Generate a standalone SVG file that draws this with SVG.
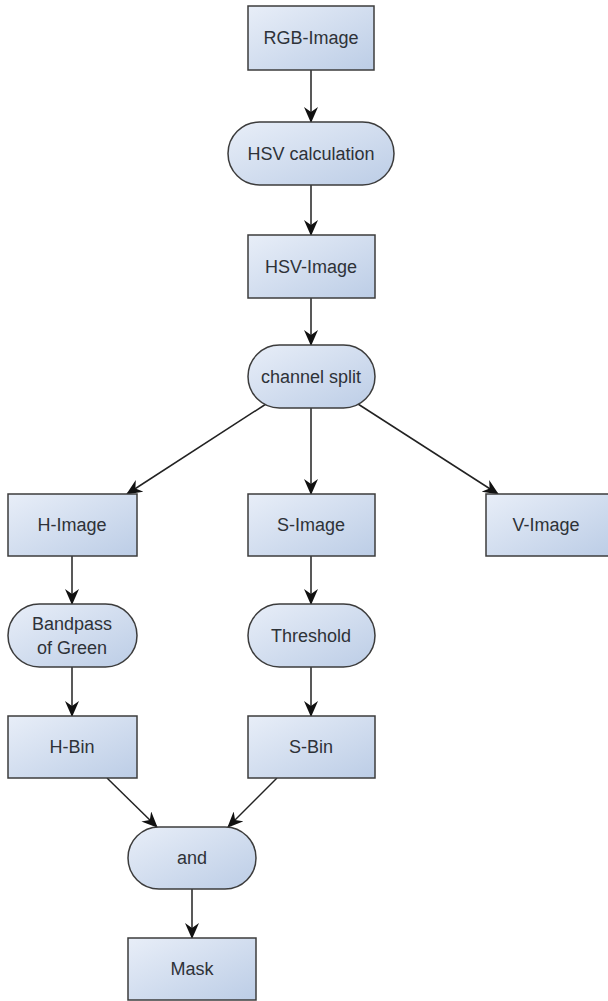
<svg xmlns="http://www.w3.org/2000/svg" width="608" height="1001" viewBox="0 0 608 1001">
<defs>
<linearGradient id="g" x1="0" y1="0" x2="1" y2="1">
<stop offset="0" stop-color="#e8eef8"/>
<stop offset="1" stop-color="#bccde6"/>
</linearGradient>
<marker id="ah" markerWidth="16" markerHeight="14" refX="15" refY="7" orient="auto" markerUnits="userSpaceOnUse">
<path d="M0,0 L16,7 L0,14 L5,7 z" fill="#111"/>
</marker>
<style>
.n{fill:url(#g);stroke:#3c3c3c;stroke-width:1.5}
.t{font-family:"Liberation Sans",Arial,sans-serif;font-size:18px;fill:#2e3238;text-anchor:middle;dominant-baseline:central}
.c{stroke:#222;stroke-width:1.5;fill:none;marker-end:url(#ah)}
</style>
</defs>
<rect width="608" height="1001" fill="#fff"/>
<g id="connectors">
<line class="c" x1="311" y1="70" x2="311" y2="122"/>
<line class="c" x1="311" y1="185" x2="311" y2="235"/>
<line class="c" x1="311" y1="298" x2="311" y2="345"/>
<line class="c" x1="266" y1="404" x2="127" y2="494"/>
<line class="c" x1="311" y1="408" x2="311" y2="494"/>
<line class="c" x1="358" y1="404" x2="498" y2="494"/>
<line class="c" x1="72" y1="556" x2="72" y2="604"/>
<line class="c" x1="311" y1="556" x2="311" y2="604"/>
<line class="c" x1="72" y1="667" x2="72" y2="716"/>
<line class="c" x1="311" y1="667" x2="311" y2="716"/>
<line class="c" x1="107" y1="778" x2="157" y2="827"/>
<line class="c" x1="277" y1="778" x2="228" y2="827"/>
<line class="c" x1="192" y1="889" x2="192" y2="938"/>
</g>
<g id="rgb-image"><rect class="n" x="248" y="6" width="126" height="64"/><text class="t" x="311" y="38">RGB-Image</text></g>
<g id="hsv-calculation"><rect class="n" x="228" y="122" width="166" height="63" rx="31.5"/><text class="t" x="311" y="153.5">HSV calculation</text></g>
<g id="hsv-image"><rect class="n" x="248" y="235" width="127" height="63"/><text class="t" x="311" y="266.5">HSV-Image</text></g>
<g id="channel-split"><rect class="n" x="248" y="345" width="127" height="63" rx="31.5"/><text class="t" x="311" y="376.5">channel split</text></g>
<g id="h-image"><rect class="n" x="8" y="494" width="129" height="62"/><text class="t" x="72" y="525">H-Image</text></g>
<g id="s-image"><rect class="n" x="248" y="494" width="127" height="62"/><text class="t" x="311" y="525">S-Image</text></g>
<g id="v-image"><rect class="n" x="486" y="494" width="124" height="62"/><text class="t" x="546" y="525">V-Image</text></g>
<g id="bandpass"><rect class="n" x="8" y="604" width="129" height="63" rx="31.5"/><text class="t" x="72" y="624">Bandpass</text><text class="t" x="72" y="648">of Green</text></g>
<g id="threshold"><rect class="n" x="248" y="604" width="127" height="63" rx="31.5"/><text class="t" x="311" y="635.5">Threshold</text></g>
<g id="h-bin"><rect class="n" x="8" y="716" width="129" height="62"/><text class="t" x="72" y="747">H-Bin</text></g>
<g id="s-bin"><rect class="n" x="248" y="716" width="127" height="62"/><text class="t" x="311" y="747">S-Bin</text></g>
<g id="and"><rect class="n" x="128" y="827" width="128" height="62" rx="31"/><text class="t" x="192" y="858">and</text></g>
<g id="mask"><rect class="n" x="128" y="938" width="128" height="62"/><text class="t" x="192" y="969">Mask</text></g>
</svg>
